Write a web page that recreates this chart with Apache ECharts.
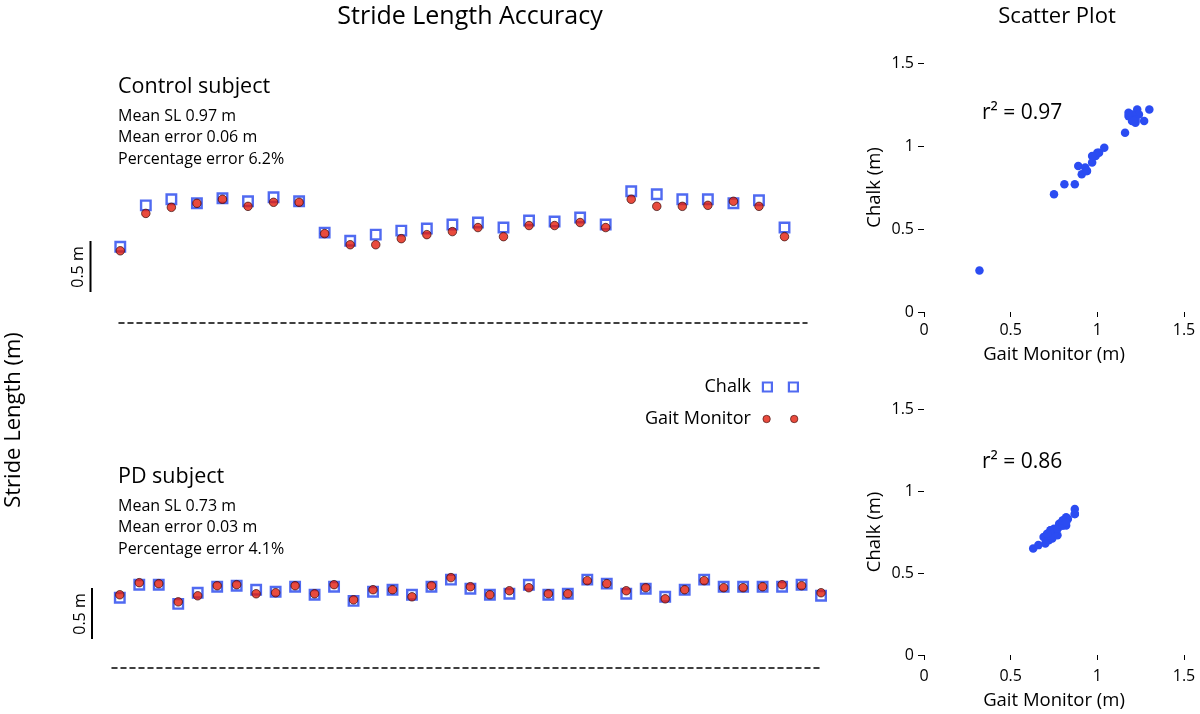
<!DOCTYPE html>
<html>
<head>
<meta charset="utf-8">
<script src="https://cdn.jsdelivr.net/npm/echarts@6/dist/echarts.min.js"></script>
<style>html,body{margin:0;padding:0;background:#fff}#c{width:1200px;height:714px}</style>
</head>
<body>
<div id="c"></div>
<script>
// Control subject stride lengths (m)
const ctrlChalk = [0.75,1.16,1.22,1.18,1.23,1.20,1.24,1.20,0.89,0.81,0.87,0.91,0.93,0.97,0.99,0.94,1.01,1.00,1.04,0.97,1.30,1.27,1.22,1.22,1.18,1.21,0.94,0.32];
const ctrlGait  = [0.71,1.08,1.14,1.18,1.22,1.15,1.19,1.19,0.88,0.77,0.77,0.83,0.87,0.90,0.94,0.85,0.96,0.96,0.99,0.94,1.22,1.15,1.15,1.16,1.20,1.15,0.85,0.25];
// PD subject stride lengths (m)
const pdChalk = [0.69,0.82,0.82,0.63,0.74,0.80,0.81,0.77,0.75,0.80,0.72,0.80,0.66,0.75,0.77,0.72,0.80,0.87,0.78,0.72,0.73,0.82,0.72,0.73,0.87,0.83,0.73,0.78,0.70,0.77,0.87,0.80,0.80,0.80,0.80,0.82,0.71];
const pdGait  = [0.72,0.84,0.83,0.65,0.71,0.81,0.82,0.73,0.74,0.81,0.73,0.82,0.67,0.77,0.77,0.70,0.81,0.89,0.80,0.72,0.76,0.79,0.73,0.73,0.86,0.83,0.76,0.79,0.68,0.77,0.86,0.79,0.79,0.80,0.82,0.81,0.74];
const scatterTicks = [0, 0.5, 1, 1.5];
const ctrlStats = ['Mean SL 0.97 m', 'Mean error 0.06 m', 'Percentage error 6.2%'];
const pdStats = ['Mean SL 0.73 m', 'Mean error 0.03 m', 'Percentage error 4.1%'];
const r2Values = ['0.97', '0.86'];

const FONT = '"Open Sans", "Noto Sans", sans-serif';
const BLUE = '#2445ee';
const RED = '#e41e0c';
const DOT = '#2b4cf2';

const idxPairs = arr => arr.map((v, i) => [i, v]);
const zipPairs = (a, b) => a.map((v, i) => [v, b[i]]);

const chart = echarts.init(document.getElementById('c'), null, {renderer: 'canvas'});

const stripX = (gi, min, max) => ({
  gridIndex: gi, type: 'value', min: min, max: max,
  axisLine: {show: true, onZero: false, lineStyle: {color: '#000', width: 1.5, type: [5, 4]}},
  axisTick: {show: false}, axisLabel: {show: false}, splitLine: {show: false}
});
const stripY = gi => ({
  gridIndex: gi, type: 'value', min: 0, max: 1.5,
  axisLine: {show: false}, axisTick: {show: false}, axisLabel: {show: false}, splitLine: {show: false}
});
const scX = (gi, margin, nameGap) => ({
  gridIndex: gi, type: 'value', min: 0, max: 1.5, interval: 0.5, offset: 2,
  axisLine: {show: false},
  axisTick: {show: true, length: 5, lineStyle: {color: '#000', width: 1}},
  axisLabel: {margin: margin, fontSize: 16, color: '#000', fontFamily: FONT},
  splitLine: {show: false},
  name: 'Gait Monitor (m)', nameLocation: 'middle', nameGap: nameGap,
  nameTextStyle: {fontSize: 18.5, color: '#000', fontFamily: FONT}
});
const scY = gi => ({
  gridIndex: gi, type: 'value', min: 0, max: 1.5, interval: 0.5, offset: 2,
  axisLine: {show: false},
  axisTick: {show: true, length: 6, lineStyle: {color: '#000', width: 1}},
  axisLabel: {margin: 8, fontSize: 16, color: '#000', fontFamily: FONT},
  splitLine: {show: false},
  name: 'Chalk (m)', nameLocation: 'middle', nameGap: 38,
  nameTextStyle: {fontSize: 18.5, color: '#000', fontFamily: FONT}
});

const chalkStyle = {symbol: 'rect', symbolSize: 9.5, itemStyle: {color: '#fff', borderColor: BLUE, borderWidth: 2.4}};
const gaitStyle = {symbol: 'circle', symbolSize: 8.5, itemStyle: {color: RED, borderColor: '#3a0c0c', borderWidth: 0.9}};

const txt = (text, x, y, size, align, extra) => Object.assign({
  type: 'text', x: x, y: y, silent: true,
  style: {text: text, fill: '#000', font: size + 'px ' + FONT, align: align || 'left', verticalAlign: 'middle'}
}, extra || {});

const statTexts = (lines, y0) => lines.map((t, i) => txt(t, 118, y0 + i * 21.5, 16));

chart.setOption({
  animation: false,
  textStyle: {fontFamily: FONT},
  grid: [
    {left: 119, top: 171, width: 688, height: 151.5},
    {left: 112, top: 516, width: 711, height: 151.5},
    {left: 924, top: 63, width: 260, height: 249},
    {left: 924, top: 409, width: 260, height: 246}
  ],
  xAxis: [stripX(0, -0.05, 26.88), stripX(1, -0.4, 36.1), scX(2, 8, 31), scX(3, 11, 34)],
  yAxis: [stripY(0), stripY(1), scY(2), scY(3)],
  legend: {
    orient: 'vertical', align: 'right', right: 396, top: 373, itemGap: 14,
    itemWidth: 35, itemHeight: 9, selectedMode: false,
    textStyle: {fontSize: 18, color: '#000', fontFamily: FONT, padding: [0, 7, 0, 0]},
    data: [
      {name: 'Chalk', icon: 'path://M0,0L9,0L9,9L0,9Z M26,0L35,0L35,9L26,9Z',
       itemStyle: {color: '#fff', borderColor: BLUE, borderWidth: 2.2}},
      {name: 'Gait Monitor', icon: 'path://M1,4.5A3.5,3.5,0,1,1,8,4.5A3.5,3.5,0,1,1,1,4.5Z M27,4.5A3.5,3.5,0,1,1,34,4.5A3.5,3.5,0,1,1,27,4.5Z',
       itemStyle: {color: RED, borderColor: '#3a0c0c', borderWidth: 0.8}}
    ]
  },
  series: [
    Object.assign({type: 'scatter', name: 'Chalk', xAxisIndex: 0, yAxisIndex: 0, data: idxPairs(ctrlChalk), z: 2}, chalkStyle),
    Object.assign({type: 'scatter', name: 'Gait Monitor', xAxisIndex: 0, yAxisIndex: 0, data: idxPairs(ctrlGait), z: 3}, gaitStyle),
    Object.assign({type: 'scatter', name: 'Chalk', xAxisIndex: 1, yAxisIndex: 1, data: idxPairs(pdChalk), z: 2}, chalkStyle),
    Object.assign({type: 'scatter', name: 'Gait Monitor', xAxisIndex: 1, yAxisIndex: 1, data: idxPairs(pdGait), z: 3}, gaitStyle),
    {type: 'scatter', name: 'Control scatter', xAxisIndex: 2, yAxisIndex: 2, data: zipPairs(ctrlChalk, ctrlGait),
     symbol: 'circle', symbolSize: 8.5, itemStyle: {color: DOT, opacity: 1}},
    {type: 'scatter', name: 'PD scatter', xAxisIndex: 3, yAxisIndex: 3, data: zipPairs(pdChalk, pdGait),
     symbol: 'circle', symbolSize: 8.5, itemStyle: {color: DOT, opacity: 1}}
  ],
  graphic: [
    txt('Stride Length Accuracy', 470, 17, 25, 'center'),
    txt('Scatter Plot', 1057, 17, 22, 'center'),
    txt('Stride Length (m)', 14, 420, 22, 'center', {rotation: Math.PI / 2}),
    txt('Control subject', 118, 87, 21.5),
    ...statTexts(ctrlStats, 116),
    txt('PD subject', 118, 477, 21.5),
    ...statTexts(pdStats, 506),
    txt('r² = ' + r2Values[0], 982, 113, 21),
    txt('r² = ' + r2Values[1], 982, 462, 21),
    {type: 'line', silent: true, shape: {x1: 90.5, y1: 241, x2: 90.5, y2: 292}, style: {stroke: '#000', lineWidth: 2}},
    txt('0.5 m', 78, 267, 16, 'center', {rotation: Math.PI / 2}),
    {type: 'line', silent: true, shape: {x1: 92, y1: 588, x2: 92, y2: 639}, style: {stroke: '#000', lineWidth: 2}},
    txt('0.5 m', 80, 614, 16, 'center', {rotation: Math.PI / 2})
  ]
});
</script>
</body>
</html>
